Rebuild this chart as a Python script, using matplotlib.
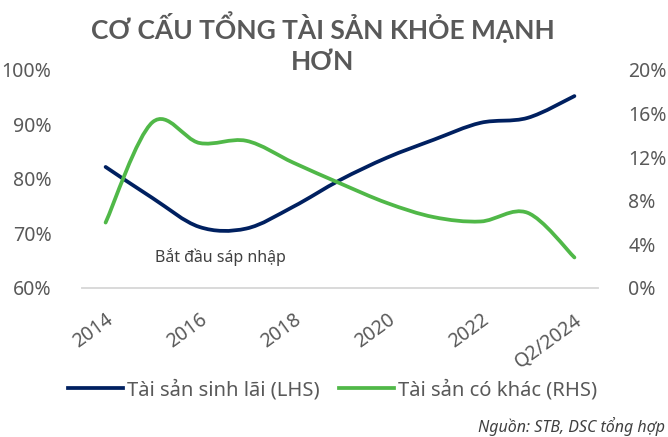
import numpy as np
import matplotlib
matplotlib.use("Agg")
import matplotlib.pyplot as plt
from matplotlib.path import Path
from matplotlib.patches import PathPatch
from matplotlib.lines import Line2D
from matplotlib.ticker import FuncFormatter

# Data
periods = ['2014', '2015', '2016', '2017', '2018', '2019', '2020',
           '2021', '2022', '2023', 'Q2/2024']
earning_assets = [82.2, 76.5, 71.2, 70.9, 74.9, 79.8, 83.9, 87.2, 90.3, 91.2, 95.2]   # % LHS
other_assets = [6.0, 15.2, 13.3, 13.5, 11.5, 9.6, 7.8, 6.5, 6.1, 6.9, 2.8]           # % RHS
shown_labels = ['2014', '2016', '2018', '2020', '2022', 'Q2/2024']

NAVY = '#002060'
GREEN = '#50B848'
GREY = '#595959'
FONT = 'Noto Sans'


def smooth_path(xs, ys):
    # Excel-like smoothed line: cubic Bezier segments through every point
    pts = np.column_stack([xs, ys]).astype(float)
    n = len(pts)
    verts = [pts[0]]
    codes = [Path.MOVETO]
    for i in range(n - 1):
        p0 = pts[i - 1] if i > 0 else pts[i]
        p1, p2 = pts[i], pts[i + 1]
        p3 = pts[i + 2] if i + 2 < n else pts[i + 1]
        c1 = p1 + (p2 - p0) / 6
        c2 = p2 - (p3 - p1) / 6
        verts += [c1, c2, p2]
        codes += [Path.CURVE4] * 3
    return Path(verts, codes)


fig = plt.figure(figsize=(6.68, 4.37), dpi=100)
ax = fig.add_axes([0.123, 0.341, 0.772, 0.499])
ax2 = ax.twinx()

x = np.arange(len(periods))
ax.add_patch(PathPatch(smooth_path(x, earning_assets), fill=False, edgecolor=NAVY,
                       lw=2.7, capstyle='round', joinstyle='round'))
ax2.add_patch(PathPatch(smooth_path(x, other_assets), fill=False, edgecolor=GREEN,
                        lw=2.7, capstyle='round', joinstyle='round'))

ax.set_xlim(-0.5, len(periods) - 0.5)
ax.set_ylim(60, 100)
ax2.set_ylim(0, 20)
ax.set_yticks([60, 70, 80, 90, 100])
ax2.set_yticks([0, 4, 8, 12, 16, 20])
pct = FuncFormatter(lambda v, p: f'{v:.0f}%')
ax.yaxis.set_major_formatter(pct)
ax2.yaxis.set_major_formatter(pct)

tick_pos = [periods.index(lbl) for lbl in shown_labels]
ax.set_xticks(tick_pos)
ax.set_xticklabels(shown_labels, rotation=36, ha='right', va='top',
                   rotation_mode='anchor', fontsize=14, color=GREY, family=FONT)
ax.tick_params(axis='x', length=0, pad=16)
ax.tick_params(axis='y', length=0, pad=22, labelsize=14, labelcolor=GREY)
ax2.tick_params(axis='y', length=0, pad=22, labelsize=14, labelcolor=GREY)
for lab in ax.get_yticklabels() + ax2.get_yticklabels():
    lab.set_family(FONT)

for a in (ax, ax2):
    for s in ('top', 'left', 'right'):
        a.spines[s].set_visible(False)
    a.spines['bottom'].set_color('#D9D9D9')
    a.spines['bottom'].set_linewidth(1.2)

ax.text(1.05, 65.6, 'Bắt đầu sáp nhập', fontsize=11.5, color='#404040',
        family=FONT, va='center', ha='left')

fig.text(0.483, 0.938, 'CƠ CẤU TỔNG TÀI SẢN KHỎE MẠNH', ha='center', va='center',
         fontsize=19, fontweight='bold', color=GREY, family='Lato')
fig.text(0.483, 0.858, 'HƠN', ha='center', va='center',
         fontsize=19, fontweight='bold', color=GREY, family='Lato')

handles = [Line2D([], [], color=NAVY, lw=2.7), Line2D([], [], color=GREEN, lw=2.7)]
fig.legend(handles, ['Tài sản sinh lãi (LHS)', 'Tài sản có khác (RHS)'],
           loc='center', bbox_to_anchor=(0.498, 0.108), ncol=2, frameon=False,
           prop={'family': FONT, 'size': 14.5}, labelcolor=GREY,
           handlelength=2.7, handletextpad=0.2, columnspacing=1.0)

fig.text(0.996, 0.023, 'Nguồn: STB, DSC tổng hợp', ha='right', va='center',
         fontsize=11.5, style='italic', color='#404040', family=FONT)

fig.savefig('out.png', dpi=100)
